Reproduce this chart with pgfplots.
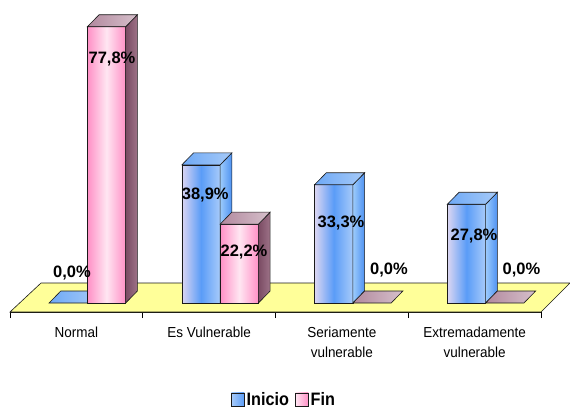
\documentclass[border=0pt]{standalone}
\usepackage{pgfplots}
\pgfplotsset{compat=1.18}
\usepackage{pgfplotstable}
\usepackage{fontspec}
\setmainfont{Liberation Sans}
\newfontfamily\catfont[FakeStretch=0.93]{Liberation Sans}
\newfontfamily\legfont[FakeStretch=0.9]{Liberation Sans}

\definecolor{floorY}{HTML}{FFFF99}
\definecolor{inLav}{HTML}{DCD6F2}
\definecolor{inBlue}{HTML}{5A9CF7}
\definecolor{inLight}{HTML}{A8CBFA}
\definecolor{inSideA}{HTML}{9CCBFC}
\definecolor{inSideB}{HTML}{4E92F2}
\definecolor{inTopA}{HTML}{6EA9F6}
\definecolor{inTopB}{HTML}{A6CAF8}
\definecolor{fiPink}{HTML}{FF90C6}
\definecolor{fiWhite}{HTML}{FFE6F2}
\definecolor{fiSideA}{HTML}{7A4B63}
\definecolor{fiSideB}{HTML}{9E7388}
\definecolor{fiTopA}{HTML}{B2899E}
\definecolor{fiTopB}{HTML}{D6C0CB}
\definecolor{edge}{HTML}{1A1A1A}

\pgfdeclareplotmark{nothing}{}

% 3D box drawn at the data point (category centre, value)
\newcommand\boxthreed[4]{%
  \pgfkeys{/pgf/fpu=false}%
  \pgfmathsetmacro\hh{\hval*3.551}%
  \pgfmathsetmacro\xa{#1}%
  \pgfmathsetmacro\xb{#1+38.3}%
  \pgfmathsetmacro\xc{#1+11.7}%
  \pgfmathsetmacro\xd{#1+50.0}%
  \pgfmathsetmacro\hb{12-\hh}%
  \pgfmathsetmacro\hf{-\hh}%
  \ifdim\hh pt>0.2pt
    \shadedraw[#2, draw=edge, line width=0.6pt] (\xa pt,\hf pt) rectangle (\xb pt,0pt);
    \shadedraw[#3, draw=edge, line width=0.6pt] (\xb pt,0pt) -- (\xd pt,12pt) -- (\xd pt,\hb pt) -- (\xb pt,\hf pt) -- cycle;
  \fi
  \shadedraw[#4, draw=edge, line width=0.6pt] (\xa pt,0pt) -- (\xb pt,0pt) -- (\xd pt,12pt) -- (\xc pt,12pt) -- cycle;
}
\newcommand\inicioBox{\boxthreed{-27.3}{left color=inLav, right color=inLight, middle color=inBlue}{left color=inSideA, right color=inSideB}{left color=inTopA, right color=inTopB}}
\newcommand\finBox{\boxthreed{11.0}{left color=fiPink, right color=fiPink, middle color=fiWhite}{left color=fiSideA, right color=fiSideB}{left color=fiTopA, right color=fiTopB}}

% x = category, y = percentage, lx/ly = label offset (pt)
\pgfplotstableread{
x y lx ly
0 0.0 -4.4 26
1 38.9 -3.9 -35.1
2 33.3 -0.9 -42.7
3 27.8 -0.6 -36.2
}\inicio
\pgfplotstableread{
x y lx ly
0 77.8 35.6 -36.8
1 22.2 34.9 -32.8
2 0.0 47.1 29
3 0.0 46.9 29
}\fin

\begin{document}
\begin{tikzpicture}
\useasboundingbox (-10pt,-96pt) rectangle (560pt,312pt);
\begin{axis}[
  at={(0pt,0pt)}, anchor=south west,
  scale only axis, width=531pt, height=312pt,
  xmin=-0.5, xmax=3.5, ymin=-2.534, ymax=85.33,
  clip=false,
  axis x line*=bottom, axis y line=none,
  ytick=\empty,
  xtick={0,1,2,3},
  xticklabels={Normal,Es Vulnerable,{Seriamente\\vulnerable},{Extremadamente\\vulnerable}},
  minor xtick={-0.5,0.5,1.5,2.5,3.5},
  major tick length=0pt, minor tick length=6pt, tick align=outside,
  tick style={black, line width=0.6pt},
  x axis line style={black, line width=0.6pt},
  xticklabel style={align=center, font=\catfont\fontsize{14.5}{20}\selectfont, yshift=-11pt},
  /pgf/number format/assume math mode=true,
  legend columns=2,
  legend style={at={(axis description cs:0.516,-0.2804)}, anchor=center, draw=none, fill=none,
    font=\legfont\bfseries\fontsize{18}{18}\selectfont,
    /tikz/every even column/.append style={column sep=4pt}},
]
% floor
\addplot[fill=floorY, draw=edge, line width=0.6pt, forget plot]
  coordinates {(-0.5,-2.534) (3.5,-2.534) (3.7185,5.63) (-0.2665,5.63)} -- cycle;

% Inicio bars
\addplot[scatter, only marks, mark=nothing, forget plot,
  visualization depends on={\thisrow{y} \as \hval},
  scatter/@pre marker code/.code={\inicioBox},
  scatter/@post marker code/.code={}]
  table[x=x, y=y] {\inicio};
% Fin bars
\addplot[scatter, only marks, mark=nothing, forget plot,
  visualization depends on={\thisrow{y} \as \hval},
  scatter/@pre marker code/.code={\finBox},
  scatter/@post marker code/.code={}]
  table[x=x, y=y] {\fin};

% value labels
\addplot[only marks, mark=nothing, forget plot, point meta=y,
  visualization depends on={\thisrow{lx} \as \labx},
  visualization depends on={\thisrow{ly} \as \laby},
  nodes near coords={\pgfmathprintnumber[fixed,fixed zerofill,precision=1,use comma]{\pgfplotspointmeta}\%},
  every node near coord/.append style={anchor=base, xshift=\labx pt, yshift=\laby pt, inner sep=0pt,
    font=\bfseries\fontsize{16.5}{18}\selectfont, text=black}]
  table[x=x, y=y] {\inicio};
\addplot[only marks, mark=nothing, forget plot, point meta=y,
  visualization depends on={\thisrow{lx} \as \labx},
  visualization depends on={\thisrow{ly} \as \laby},
  nodes near coords={\pgfmathprintnumber[fixed,fixed zerofill,precision=1,use comma]{\pgfplotspointmeta}\%},
  every node near coord/.append style={anchor=base, xshift=\labx pt, yshift=\laby pt, inner sep=0pt,
    font=\bfseries\fontsize{16.5}{18}\selectfont, text=black}]
  table[x=x, y=y] {\fin};

\addlegendimage{legend image code/.code={\shadedraw[left color=inLight, right color=inBlue, draw=edge, line width=0.6pt] (0pt,-6.5pt) rectangle (13pt,6.5pt);}}
\addlegendentry{Inicio}
\addlegendimage{legend image code/.code={\shadedraw[left color=fiWhite, right color=fiPink, draw=edge, line width=0.6pt] (0pt,-6.5pt) rectangle (13pt,6.5pt);}}
\addlegendentry{Fin}
\end{axis}
\end{tikzpicture}
\end{document}
